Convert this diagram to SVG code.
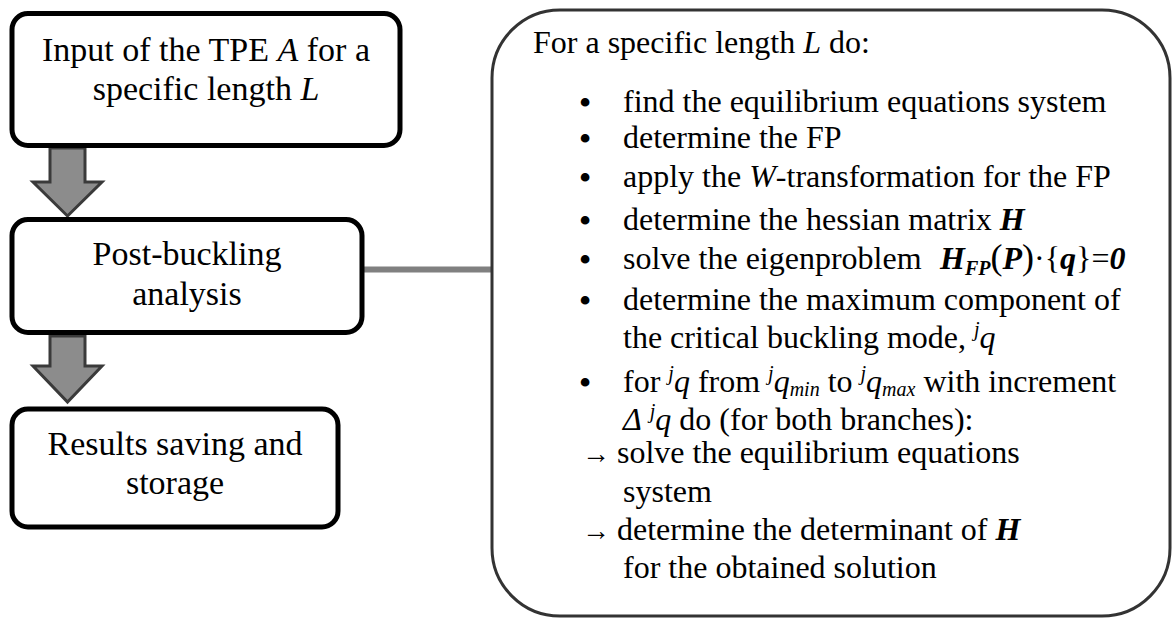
<svg xmlns="http://www.w3.org/2000/svg" width="1173" height="619" viewBox="0 0 1173 619">
<style>
text{font-family:"Liberation Serif","Times New Roman",serif;fill:#000}
.lt{font-size:34px;text-anchor:middle}
.rt{font-size:32px}
.i{font-style:italic}
.bi{font-style:italic;font-weight:bold}
.sm{font-size:20px}
.bul{font-size:32px;font-weight:bold;text-anchor:middle}
text.ar{font-size:28px}
.box{fill:#fff;stroke:#000;stroke-width:5}
.arr{fill:#8c8c8c;stroke:#3a3a3a;stroke-width:3;stroke-linejoin:miter}
</style>
<rect width="1173" height="619" fill="#fff"/>
<g id="connectors">
<line x1="362" y1="269.5" x2="492" y2="269.5" stroke="#808080" stroke-width="6"/>
<polygon class="arr" points="50,148 85,148 85,182 102,182 67.5,216 33,182 50,182"/>
<polygon class="arr" points="50,336 85,336 85,366 102,366 67.5,402 33,366 50,366"/>
</g>
<g id="node-input">
<rect class="box" x="12" y="13.5" width="388" height="132" rx="16"/>
<text class="lt" x="206" y="61">Input of the TPE <tspan class="i">A</tspan> for a</text>
<text class="lt" x="206" y="100">specific length <tspan class="i">L</tspan></text>
</g>
<g id="node-postbuckling">
<rect class="box" x="12" y="219.5" width="350" height="113" rx="16"/>
<text class="lt" x="187" y="265">Post-buckling</text>
<text class="lt" x="187" y="305">analysis</text>
</g>
<g id="node-results">
<rect class="box" x="12" y="409" width="326" height="118" rx="16"/>
<text class="lt" x="175" y="455">Results saving and</text>
<text class="lt" x="175" y="494">storage</text>
</g>
<g id="node-procedure">
<rect x="492" y="10" width="678" height="606" rx="68" fill="#fff" stroke="#333" stroke-width="3"/>
<text class="rt" x="533" y="53">For a specific length <tspan class="i">L</tspan> do:</text>
<text class="bul"><tspan x="585" y="113">•</tspan><tspan x="585" y="149">•</tspan><tspan x="585" y="188">•</tspan><tspan x="585" y="231">•</tspan><tspan x="585" y="270">•</tspan><tspan x="585" y="311">•</tspan><tspan x="585" y="393">•</tspan></text>
<text class="rt" x="623" y="112">find the equilibrium equations system</text>
<text class="rt" x="623" y="148">determine the FP</text>
<text class="rt" x="623" y="187">apply the <tspan class="i">W</tspan>-transformation for the FP</text>
<text class="rt" x="623" y="230">determine the hessian matrix <tspan class="bi">H</tspan></text>
<text class="rt" x="623" y="269">solve the eigenproblem</text>
<text class="rt" x="940" y="269"><tspan class="bi">H</tspan><tspan class="bi sm" dy="6">FP</tspan><tspan dy="-6" font-size="36">(</tspan><tspan class="bi">P</tspan><tspan font-size="36">)</tspan>·{<tspan class="bi">q</tspan>}=<tspan class="bi">0</tspan></text>
<text class="rt" x="623" y="310">determine the maximum component of</text>
<text class="rt" x="623" y="348">the critical buckling mode, <tspan class="i sm" dy="-12">j</tspan><tspan class="i" dy="12">q</tspan></text>
<text class="rt" x="623" y="392">for <tspan class="i sm" dy="-12">j</tspan><tspan class="i" dy="12">q</tspan> from <tspan class="i sm" dy="-12">j</tspan><tspan class="i" dy="12">q</tspan><tspan class="i sm" dy="4">min</tspan><tspan dy="-4"> to </tspan><tspan class="i sm" dy="-12">j</tspan><tspan class="i" dy="12">q</tspan><tspan class="i sm" dy="4">max</tspan><tspan dy="-4"> with increment</tspan></text>
<text class="rt" x="623" y="430"><tspan class="i">Δ</tspan> <tspan class="i sm" dy="-12">j</tspan><tspan class="i" dy="12">q</tspan> do (for both branches):</text>
<text class="ar" x="582" y="463">→</text>
<text class="rt" x="617" y="463">solve the equilibrium equations</text>
<text class="rt" x="623" y="502">system</text>
<text class="ar" x="582" y="540">→</text>
<text class="rt" x="617" y="540">determine the determinant of <tspan class="bi">H</tspan></text>
<text class="rt" x="623" y="578">for the obtained solution</text>
</g>
</svg>
